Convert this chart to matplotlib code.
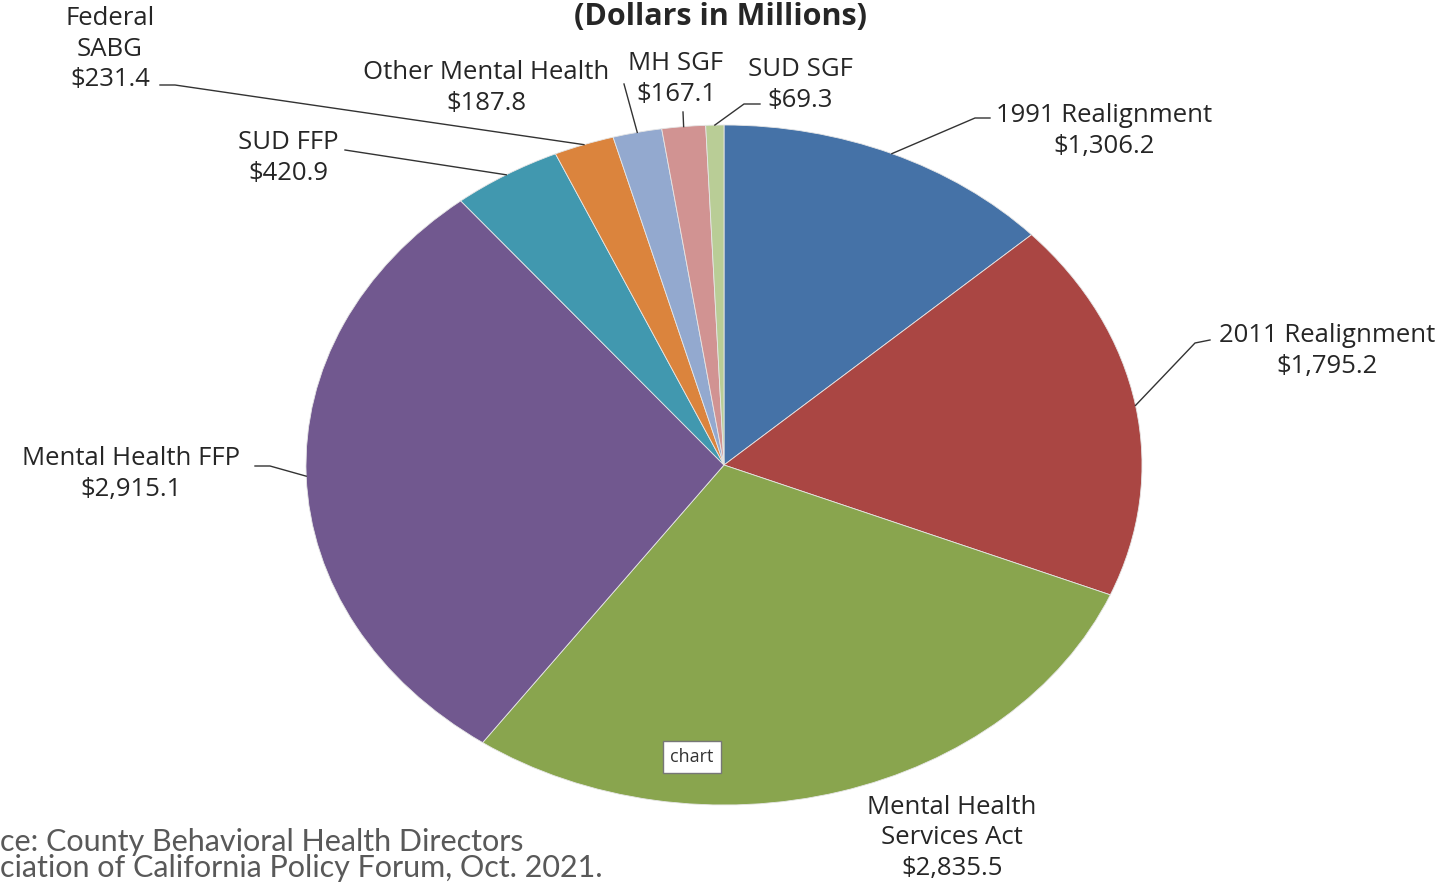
import numpy as np
import matplotlib
matplotlib.use('Agg')
import matplotlib.pyplot as plt

# funding by source, dollars in millions (clockwise from top)
sources = ['1991 Realignment', '2011 Realignment', 'Mental Health\nServices Act',
           'Mental Health FFP', 'SUD FFP', 'Federal\nSABG', 'Other Mental Health',
           'MH SGF', 'SUD SGF']
amounts = [1306.2, 1795.2, 2835.5, 2915.1, 420.9, 231.4, 187.8, 167.1, 69.3]
colors = ['#4572A7', '#AA4643', '#89A54E', '#71588F', '#4198AF',
          '#DB843D', '#93A9CF', '#D19392', '#B9CD96']

W, H = 1448, 882
fig = plt.figure(figsize=(W / 100, H / 100), dpi=100)
fig.patch.set_facecolor('white')

# pie centre ~ (724, 465) px, radii 418 x 340 px -> stretched circle
cx, cy, rx, ry = 724, 465, 418, 340
ax = fig.add_axes([(cx - rx) / W, (H - cy - ry) / H, 2 * rx / W, 2 * ry / H])
wedges, _ = ax.pie(amounts, colors=colors, startangle=90, counterclock=False,
                   wedgeprops=dict(edgecolor='#e6e6e6', linewidth=0.6))
ax.set_aspect('auto')
ax.set_xlim(-1, 1)
ax.set_ylim(-1, 1)
ax.axis('off')

lab_font = dict(family='Open Sans', fontsize=18.5, color='#262626')

# label text centre (px from top-left), leader start and knee (px)
label_pos = {
    '1991 Realignment': ((1104, 131), (990, 118), (975, 118)),
    '2011 Realignment': ((1327, 351), (1210, 340), (1195, 343)),
    'Mental Health\nServices Act': ((952, 838), None, None),
    'Mental Health FFP': ((131, 474), (255, 466), (270, 466)),
    'SUD FFP': ((288, 158), (345, 150), (345, 150)),
    'Federal\nSABG': ((110, 49), (160, 85), (175, 85)),
    'Other Mental Health': ((486, 88), (624, 84), (624, 84)),
    'MH SGF': ((676, 79), (683, 112), (683, 112)),
    'SUD SGF': ((800, 85), (760, 104), (744, 104)),
}

total = sum(amounts)
cum = 0.0
for name, val in zip(sources, amounts):
    mid = 90 - 360 * (cum + val / 2) / total
    cum += val
    (tx, ty), start, knee = label_pos[name]
    label = name + '\n$' + f'{val:,.1f}'
    fig.text(tx / W, 1 - ty / H, label, ha='center', va='center',
             linespacing=1.3, **lab_font)
    if start is None:
        continue
    ex, ey = np.cos(np.radians(mid)), np.sin(np.radians(mid))
    # edge point in pixels
    epx, epy = cx + rx * ex, cy - ry * ey
    xs = [start[0], knee[0], epx]
    ys = [start[1], knee[1], epy]
    fig.add_artist(plt.Line2D([x / W for x in xs], [1 - y / H for y in ys],
                              color='#333333', lw=1.0))

fig.text(720 / W, 1 - 17 / H, '(Dollars in Millions)', ha='center', va='center',
         family='Open Sans', fontsize=22, fontweight='bold', color='#262626')

src_font = dict(family='Lato', fontsize=22, color='#595959')
fig.text(0, 1 - 842 / H, 'ce: County Behavioral Health Directors',
         ha='left', va='center', **src_font)
fig.text(0, 1 - 868 / H, 'ciation of California Policy Forum, Oct. 2021.',
         ha='left', va='center', **src_font)

# tooltip box
fig.text(692 / W, 1 - 757 / H, 'chart', ha='center', va='center',
         family='Open Sans', fontsize=13, color='#333333',
         bbox=dict(boxstyle='square,pad=0.4', fc='white', ec='#777777', lw=1))

fig.savefig('out.png', dpi=100)
